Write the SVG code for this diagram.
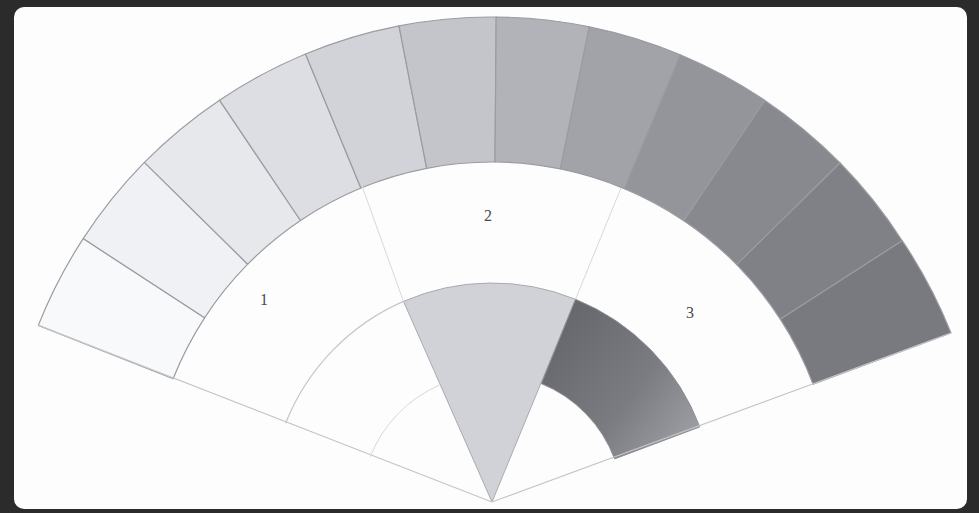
<svg xmlns="http://www.w3.org/2000/svg" width="979" height="513" viewBox="0 0 979 513">
<defs>
<style>
.seg{stroke:#9a9ca2;stroke-width:1.2;stroke-linejoin:round}
.ln{fill:none;stroke:#c4c6c9;stroke-width:1.2}
.fl{fill:none;stroke:#d6d8da;stroke-width:1}
.lbl{font-family:"Liberation Serif",serif;font-size:16px;fill:#4a4a4a;text-anchor:middle}
</style>
<linearGradient id="dk" gradientUnits="userSpaceOnUse" x1="545" y1="330" x2="690" y2="440">
<stop offset="0" stop-color="#64666c"/>
<stop offset="0.6" stop-color="#7a7c82"/>
<stop offset="1" stop-color="#9c9ea3"/>
</linearGradient>
</defs>
<rect width="979" height="513" fill="#2b2b2b"/>
<rect x="14" y="7" width="953" height="502" rx="10" fill="#fdfdfd"/>
<g id="outer-band">
<path id="s1" class="seg" fill="#f8f9fa" d="M38.3,325.4 A488,488 0 0 1 83.2,238.6 L204.6,317.8 A343,343 0 0 0 173.1,378.7 Z"/>
<path id="s2" class="seg" fill="#f0f1f4" d="M83.2,238.6 A488,488 0 0 1 144.4,162.4 L247.7,264.2 A343,343 0 0 0 204.6,317.8 Z"/>
<path id="s3" class="seg" fill="#e6e8ec" d="M144.4,162.4 A488,488 0 0 1 219.5,100.2 L300.5,220.5 A343,343 0 0 0 247.7,264.2 Z"/>
<path id="s4" class="seg" fill="#dcdee3" d="M219.5,100.2 A488,488 0 0 1 305.5,54 L360.9,188 A343,343 0 0 0 300.5,220.5 Z"/>
<path id="s5" class="seg" fill="#d1d3d9" d="M305.5,54 A488,488 0 0 1 399,25.9 L426.7,168.3 A343,343 0 0 0 360.9,188 Z"/>
<path id="s6" class="seg" fill="#c3c5cb" d="M399,25.9 A488,488 0 0 1 496.2,17 L495,162 A343,343 0 0 0 426.7,168.3 Z"/>
<path id="s7" class="seg" fill="#b1b3b9" d="M496.2,17 A488,488 0 0 1 589.3,26.8 L560.4,168.9 A343,343 0 0 0 495,162 Z"/>
<path id="s8" class="seg" fill="#a1a3a9" d="M589.3,26.8 A488,488 0 0 1 680.3,54.8 L624.4,188.6 A343,343 0 0 0 560.4,168.9 Z"/>
<path id="s9" class="seg" fill="#93959b" d="M680.3,54.8 A488,488 0 0 1 764.9,100.4 L683.8,220.7 A343,343 0 0 0 624.4,188.6 Z"/>
<path id="s10" class="seg" fill="#88898f" d="M764.9,100.4 A488,488 0 0 1 840.1,163 L736.7,264.6 A343,343 0 0 0 683.8,220.7 Z"/>
<path id="s11" class="seg" fill="#7f8187" d="M840.1,163 A488,488 0 0 1 902.2,240.7 L780.3,319.2 A343,343 0 0 0 736.7,264.6 Z"/>
<path id="s12" class="seg" fill="#787a80" d="M902.2,240.7 A488,488 0 0 1 951,333 L813.1,384.3 A343,343 0 0 0 780.3,319.2 Z"/>
</g>
<g id="wedge-2">
<path fill="#d0d2d7" stroke="#a9abb0" stroke-width="1" d="M492,502 L403.5,301.4 A222,222 0 0 1 575.5,299.3 Z"/>
</g>
<g id="band-3">
<path fill="url(#dk)" stroke="#8e9095" stroke-width="1" d="M575.5,299.3 A222,222 0 0 1 699.8,426.9 L614.6,458.9 A131,131 0 0 0 541.3,383.6 Z"/>
</g>
<g id="connectors">
<path class="ln" d="M492,502 L38.3,325.4"/>
<path class="ln" d="M492,502 L951,333"/>
<path class="ln" d="M285.6,423.3 A222,222 0 0 1 403.5,301.4"/>
<path class="fl" d="M370.2,456.8 A131,131 0 0 1 439.8,384.9"/>
<path class="fl" d="M362,186 L403.5,301.4"/>
<path class="fl" d="M621,188 L575.5,299.3"/>
</g>
<g id="label-1"><text class="lbl" x="264" y="305">1</text></g>
<g id="label-2"><text class="lbl" x="488" y="221">2</text></g>
<g id="label-3"><text class="lbl" x="690" y="318">3</text></g>
</svg>
